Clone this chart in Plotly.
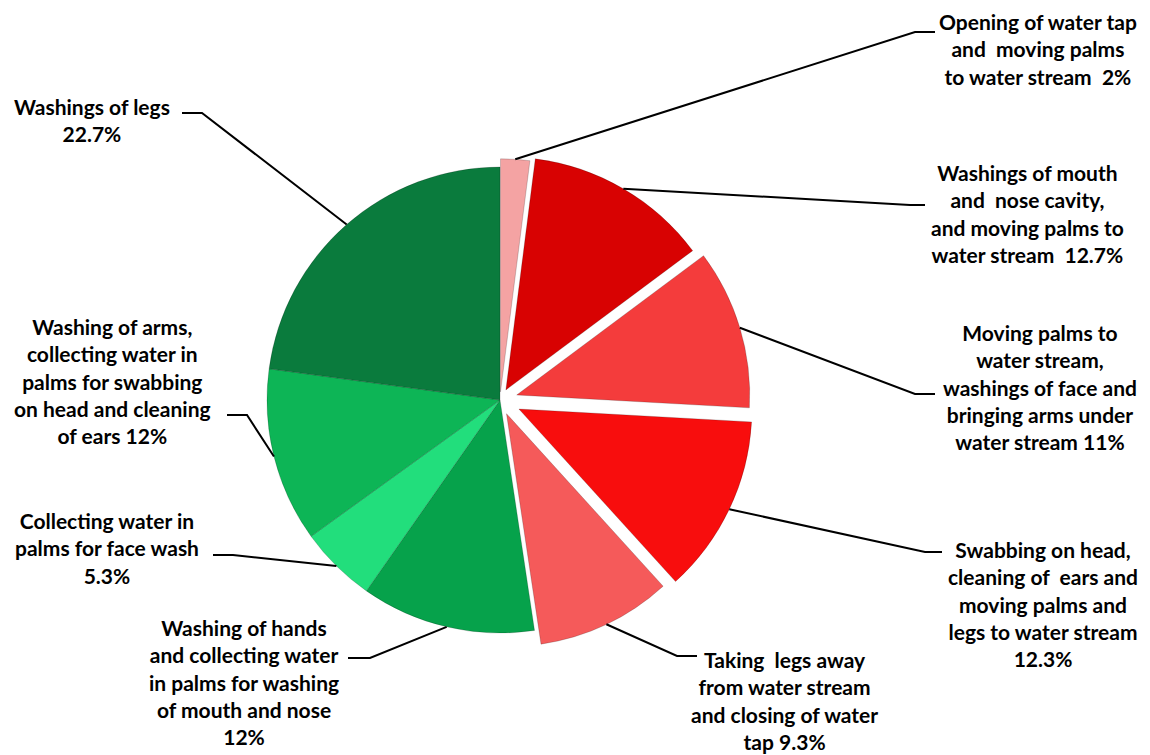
import math
import plotly.graph_objects as go

# ---------------- data ----------------
steps = [
    "Opening of water tap",
    "Washings of mouth and nose cavity",
    "Moving palms, face and arms",
    "Swabbing on head, ears, legs",
    "Taking legs away, closing tap",
    "Washing of hands",
    "Collecting water for face wash",
    "Washing of arms",
    "Washings of legs",
]
values = [2, 12.7, 11, 12.3, 9.3, 12, 5.3, 12, 22.7]
label_templates = [
    "Opening of water tap<br>and  moving palms<br>to water stream  {v}%",
    "Washings of mouth<br>and  nose cavity,<br>and moving palms to<br>water stream  {v}%",
    "Moving palms to<br>water stream,<br>washings of face and<br>bringing arms under<br>water stream {v}%",
    "Swabbing on head,<br>cleaning of  ears and<br>moving palms and<br>legs to water stream<br>{v}%",
    "Taking  legs away<br>from water stream<br>and closing of water<br>tap {v}%",
    "Washing of hands<br>and collecting water<br>in palms for washing<br>of mouth and nose<br>{v}%",
    "Collecting water in<br>palms for face wash<br>{v}%",
    "Washing of arms,<br>collecting water in<br>palms for swabbing<br>on head and cleaning<br>of ears {v}%",
    "Washings of legs<br>{v}%",
]

# ---------------- style / layout ----------------
W, H = 1150, 755
colors = ["#F4A3A3", "#D80202", "#F43C3C", "#F80D0D", "#F55A5A",
          "#06A24B", "#22DE7C", "#0DB556", "#0A7B3D"]
pulls = [0.035, 0.05, 0.075, 0.09, 0.065, 0, 0, 0, 0]
CX, CY, BOX = 500, 400, 508          # pie centre and domain box (px)

# label block centres (px) and leader-line elbow / end points (px)
label_pos = [(1038, 49), (1027, 213), (1040, 387), (1043, 604), (785, 700),
             (244, 682), (107, 548), (112, 381), (92, 120)]
elbows = [(915, 32), (910, 205), (915, 394), (925, 552), (677, 656),
          (370, 658), (233, 555), (247, 415), (202, 113)]
ends = [(935, 32), (925, 205), (935, 394), (942, 552), (697, 656),
        (348, 658), (213, 555), (227, 415), (182, 113)]

def px(x):
    return x / W

def py(y):
    return 1 - y / H

fig = go.Figure(go.Pie(
    labels=steps, values=values, sort=False, direction="clockwise", rotation=0,
    pull=pulls, textinfo="none", hoverinfo="label+percent",
    marker=dict(colors=colors, line=dict(color="rgba(0,0,0,0.18)", width=1)),
    domain=dict(x=[px(CX - BOX / 2), px(CX + BOX / 2)],
                y=[py(CY + BOX / 2), py(CY - BOX / 2)]),
    showlegend=False,
))

R = BOX / (2 * (1 + max(pulls)))
total = sum(values)
shapes, annotations = [], []
cum = 0
for i, v in enumerate(values):
    mid = (cum + v / 2) / total * 2 * math.pi
    cum += v
    rr = R * (1 + pulls[i])
    sx, sy = CX + rr * math.sin(mid), CY - rr * math.cos(mid)
    (ex, ey), (fx, fy) = elbows[i], ends[i]
    shapes.append(dict(
        type="path", xref="paper", yref="paper",
        path=f"M {px(sx)},{py(sy)} L {px(ex)},{py(ey)} L {px(fx)},{py(fy)}",
        line=dict(color="black", width=2)))
    lx, ly = label_pos[i]
    annotations.append(dict(
        x=px(lx), y=py(ly), xref="paper", yref="paper", showarrow=False,
        xanchor="center", yanchor="middle", align="center",
        text=label_templates[i].format(v=f"{v:g}"),
        font=dict(family="Lato", size=21, color="black", weight="bold")))

fig.update_layout(
    width=W, height=H, margin=dict(l=0, r=0, t=0, b=0),
    paper_bgcolor="white", plot_bgcolor="white",
    shapes=shapes, annotations=annotations,
)
fig.write_html(
    "out.html",
    config={"displayModeBar": False},
    post_script="document.body.style.margin='0';document.body.style.overflow='hidden';",
)
